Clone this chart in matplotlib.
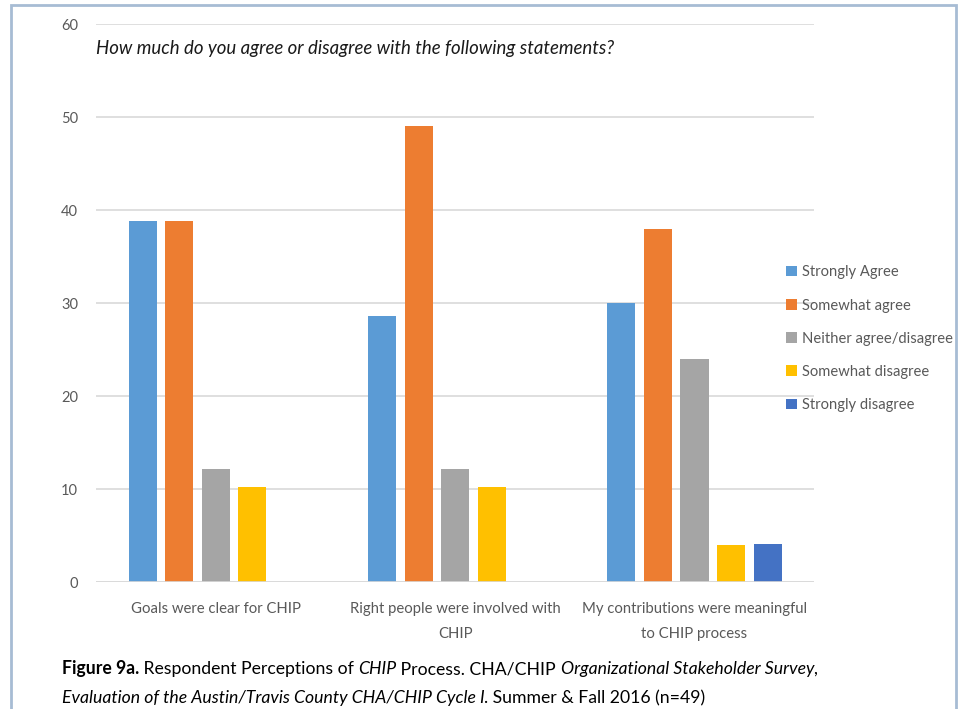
import matplotlib.pyplot as plt
import numpy as np
from matplotlib.patches import Rectangle

plt.rcParams['font.family'] = ['Lato', 'DejaVu Sans']

statements = ['Goals were clear for CHIP',
              'Right people were involved with\nCHIP',
              'My contributions were meaningful\nto CHIP process']
responses = ['Strongly Agree', 'Somewhat agree', 'Neither agree/disagree',
             'Somewhat disagree', 'Strongly disagree']
strongly_agree = [38.8, 28.6, 30.0]
somewhat_agree = [38.8, 49.0, 38.0]
neither = [12.2, 12.2, 24.0]
somewhat_disagree = [10.2, 10.2, 4.0]
strongly_disagree = [0, 0, 4.1]
yticks = [0, 10, 20, 30, 40, 50, 60]

colors = ['#5B9BD5', '#ED7D31', '#A5A5A5', '#FFC000', '#4472C4']
series = [strongly_agree, somewhat_agree, neither, somewhat_disagree, strongly_disagree]

fig = plt.figure(figsize=(9.64, 7.09), dpi=100)
ax = fig.add_axes([0.0996, 0.179, 0.745, 0.787])

x = np.arange(len(statements))
width = 0.117
step = 0.1525
for i, (vals, c, lab) in enumerate(zip(series, colors, responses)):
    ax.bar(x + (i - 2) * step, vals, width, color=c, label=lab, zorder=3)

ax.set_xlim(-0.5, 2.5)
ax.set_ylim(0, 60)
ax.set_yticks(yticks)
ax.grid(axis='y', color='#D9D9D9', linewidth=1.2, zorder=0)
ax.set_axisbelow(True)
for s in ax.spines.values():
    s.set_visible(False)
ax.tick_params(length=0, labelsize=10.5, labelcolor='#595959')
ax.tick_params(axis='y', pad=13)
ax.tick_params(axis='x', pad=14)
ax.set_xticks(x)
ax.set_xticklabels(statements, linespacing=2.0, fontsize=10.7)
ax.axhline(0, color='#D9D9D9', linewidth=1.2, zorder=4)

ax.text(0.0, 0.956, 'How much do you agree or disagree with the following statements?',
        transform=ax.transAxes, fontsize=13.4, style='italic', color='#1a1a1a',
        va='center', ha='left')

fig.legend(loc='upper left', bbox_to_anchor=(0.8095, 0.634), frameon=False,
           fontsize=10.6, handlelength=0.7, handleheight=0.7, handletextpad=0.35,
           labelspacing=1.3, labelcolor='#595959', borderaxespad=0)

# figure frame
fig.patches.append(Rectangle((0.0114, -0.01), 0.98, 1.003, transform=fig.transFigure,
                             fill=False, edgecolor='#A7BCD4', linewidth=2))

# caption: mixed bold / italic pieces laid out one after another
parts1 = [('Figure 9a.', 'bold', 'normal'),
          (' Respondent Perceptions of ', 'normal', 'normal'),
          ('CHIP', 'normal', 'italic'),
          (' Process. CHA/CHIP ', 'normal', 'normal'),
          ('Organizational Stakeholder Survey,', 'normal', 'italic')]
parts2 = [('Evaluation of the Austin/Travis County CHA/CHIP Cycle I', 'normal', 'italic'),
          ('. Summer & Fall 2016 (n=49)', 'normal', 'normal')]

fig.canvas.draw()
renderer = fig.canvas.get_renderer()
for parts, ypos in [(parts1, 0.049), (parts2, 0.0085)]:
    xpos = 0.064
    for s, w, st in parts:
        t = fig.text(xpos, ypos, s, fontsize=12.7, weight=w, style=st,
                     va='baseline', ha='left', color='black')
        xpos += t.get_window_extent(renderer).width / fig.bbox.width

fig.savefig('out.png', dpi=100)
